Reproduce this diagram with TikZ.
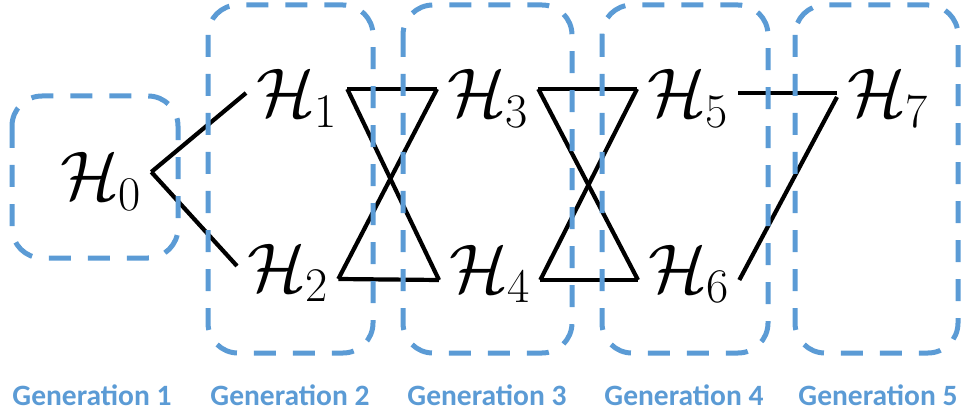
\RequirePackage{fix-cm}
\documentclass[tikz,border=0pt]{standalone}
\usepackage{fontspec}
\newfontfamily\genfont{Carlito}
\definecolor{genblue}{RGB}{91,155,213}
\tikzset{
  hnode/.style={inner sep=0pt, inner xsep=10pt, anchor=base west, font=\fontsize{69}{71}\selectfont, text depth=0pt},
  toprow/.style={hnode, text height=56pt},
  botrow/.style={hnode, text height=24pt},
  link/.style={line width=4.2pt, draw=black},
  genbox/.style={draw=genblue, line width=5pt, dash pattern=on 22pt off 17pt, rounded corners=30pt},
  genlabel/.style={text=genblue, font=\genfont\bfseries\fontsize{29.5}{31}\selectfont, anchor=base, inner sep=0pt},
}
\begin{document}
\begin{tikzpicture}[x=1pt,y=-1pt]
\useasboundingbox (0,0) rectangle (963,414);
% nodes
\node[toprow] (H0) at (50,200) {$\mathcal{H}_0$};
\node[toprow] (H1) at (246,117) {$\mathcal{H}_1$};
\node[botrow] (H2) at (237,291) {$\mathcal{H}_2$};
\node[toprow] (H3) at (437,117) {$\mathcal{H}_3$};
\node[botrow] (H4) at (439,292) {$\mathcal{H}_4$};
\node[toprow] (H5) at (637,117) {$\mathcal{H}_5$};
\node[botrow] (H6) at (638,292) {$\mathcal{H}_6$};
\node[hnode, text height=48pt] (H7) at (837,117) {$\mathcal{H}_7$};
% connectors
\draw[link] (H0.east) -- ([yshift=-4pt]H1.west);
\draw[link] (H0.east) -- ([yshift=13pt]H2.west);
\foreach \a/\b in {H1/H3,H1/H4,H2/H3,H2/H4,H3/H5,H3/H6,H4/H5,H4/H6}
  \draw[link] (\a.east) -- (\b.west);
\draw[link] ([yshift=-4pt]H5.east) -- (H7.west);
\draw[link] (H6.east) -- ([yshift=-4pt]H7.west);
% generation boxes
\draw[genbox] (12,96) rectangle (178,258);
\draw[genbox] (208,5) rectangle (373,353);
\draw[genbox] (403,5) rectangle (572,353);
\draw[genbox] (602,5) rectangle (768,353);
\draw[genbox] (795,5) rectangle (958,353);
% labels
\node[genlabel] (L1) at (92,405) {Generation 1};
\node[genlabel] (L2) at (290,405) {Generation 2};
\node[genlabel] (L3) at (487,405) {Generation 3};
\node[genlabel] (L4) at (684,405) {Generation 4};
\node[genlabel] (L5) at (878,405) {Generation 5};
\end{tikzpicture}
\end{document}
